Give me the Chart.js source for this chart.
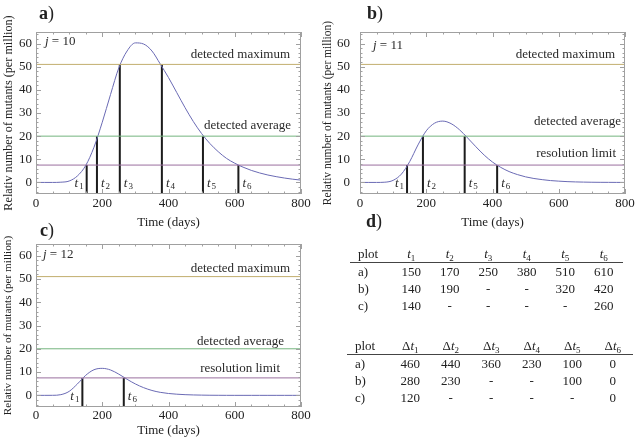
<!DOCTYPE html>
<html>
<head>
<meta charset="utf-8">
<script src="https://cdn.jsdelivr.net/npm/chart.js@4.4.0/dist/chart.umd.min.js"></script>
<style>
  body { margin: 0; background: #fff; font-family: "Liberation Serif", serif; color: #222; }
  #wrap { position: relative; width: 637px; height: 444px; overflow: hidden; }
  canvas { position: absolute; }
  .lbl { position: absolute; font-size: 18px; line-height: 20px; }
  table { position: absolute; border-collapse: collapse; font-size: 13px; table-layout: fixed; }
  td, th { font-weight: normal; text-align: center; padding: 0; height: 17px; line-height: 17px; white-space: nowrap; }
  th { border-bottom: 1px solid #444; }
  td.p, th.p { text-align: left; padding-left: 8px; }
  sub { font-size: 9px; vertical-align: -3px; line-height: 0; }
</style>
</head>
<body>
<div id="wrap">
  <canvas id="ca" width="318" height="232" style="left:0;top:0"></canvas>
  <canvas id="cb" width="319" height="232" style="left:318px;top:0"></canvas>
  <canvas id="cc" width="318" height="224" style="left:0;top:220px"></canvas>
  <div class="lbl" style="left:39px;top:3px"><b>a</b>)</div>
  <div class="lbl" style="left:367px;top:3px"><b>b</b>)</div>
  <div class="lbl" style="left:40px;top:220px"><b>c</b>)</div>
  <div class="lbl" style="left:366px;top:211px"><b>d</b>)</div>
  <table id="t1" style="left:350px;top:245px;width:273px"></table>
  <table id="t2" style="left:347px;top:337px;width:286px"></table>
</div>
<script>
// time axis (days) and the three simulated curves
const days = [0, 25, 50, 75, 100, 125, 150, 175, 200, 225, 250, 275, 300, 325, 350, 375, 400,
  425, 450, 475, 500, 525, 550, 575, 600, 625, 650, 675, 700, 725, 750, 775, 800];
const curveA = [0, 0, 0, 0.1, 0.6, 2.8, 7.3, 15.2, 26, 38, 49.5, 56.8, 60.3, 59.8, 56.8, 51.2, 45.3,
  38.8, 32.3, 26.3, 21.1, 16.8, 13.3, 10.4, 8.3, 6.6, 5.2, 4.1, 3.2, 2.5, 1.9, 1.4, 1.0];
const curveB = [0, 0, 0, 0.1, 0.9, 3.6, 9.0, 16.2, 22.3, 25.6, 26.5, 25.4, 22.8, 19.2, 15.4, 11.8, 8.8,
  6.5, 4.7, 3.4, 2.4, 1.7, 1.2, 0.8, 0.55, 0.35, 0.22, 0.14, 0.08, 0.05, 0.03, 0.01, 0];
const curveC = [0, 0, 0.02, 0.3, 1.7, 4.9, 8.6, 11.0, 11.6, 10.9, 9.1, 6.9, 4.9, 3.3, 2.1, 1.3, 0.8,
  0.5, 0.3, 0.18, 0.1, 0.05, 0.03, 0.01, 0, 0, 0, 0, 0, 0, 0, 0, 0];

// horizontal thresholds
const levelNames = ["detected maximum", "detected average", "resolution limit"];
const levelValues = [51, 20, 7.5];
const levelColors = ["#c2ae6e", "#74b47e", "#9a6e9e"];

// crossing times (as drawn), which threshold they hit, subscript index
const markA = [153, 184, 253, 380, 504, 611];
const markLevelA = [2, 1, 0, 0, 1, 2];
const markSubA = ["1", "2", "3", "4", "5", "6"];
const markB = [142, 190, 316, 414];
const markLevelB = [2, 1, 1, 2];
const markSubB = ["1", "2", "5", "6"];
const markC = [140, 265];
const markLevelC = [2, 2];
const markSubC = ["1", "6"];

const xTicks = [0, 200, 400, 600, 800];
const yTicks = [0, 10, 20, 30, 40, 50, 60];

// table d)
const tHead = ["1", "2", "3", "4", "5", "6"];
const tRows = [
  ["a)", "150", "170", "250", "380", "510", "610"],
  ["b)", "140", "190", "-", "-", "320", "420"],
  ["c)", "140", "-", "-", "-", "-", "260"]
];
const dtRows = [
  ["a)", "460", "440", "360", "230", "100", "0"],
  ["b)", "280", "230", "-", "-", "100", "0"],
  ["c)", "120", "-", "-", "-", "-", "0"]
];

const xMinor = [];
for (let v = 0; v <= 800; v += 50) xMinor.push(v);
const yMinor = [];
for (let v = -4; v <= 64; v += 2) yMinor.push(v);

const FONT = '"Liberation Serif", serif';

function subLabel(ctx, px, py, sub, left) {
  ctx.font = 'italic 13px ' + FONT;
  const w1 = ctx.measureText('t').width;
  ctx.font = '9px ' + FONT;
  const w2 = ctx.measureText(sub).width;
  const x0 = left ? px - 3 - w1 - w2 - 1 : px + 4;
  ctx.textAlign = 'left';
  ctx.textBaseline = 'middle';
  ctx.font = 'italic 13px ' + FONT;
  ctx.fillText('t', x0, py);
  ctx.font = '9px ' + FONT;
  ctx.fillText(sub, x0 + w1 + 1, py + 3);
}

const decor = {
  id: 'decor',
  afterDatasetsDraw(chart, args, o) {
    const { ctx, chartArea: a, scales: { x, y } } = chart;
    ctx.save();
    ctx.strokeStyle = '#a0a0a0';
    ctx.lineWidth = 1;
    ctx.beginPath();
    xMinor.forEach(v => {
      const p = Math.round(x.getPixelForValue(v)) + 0.5;
      const L = xTicks.includes(v) ? 5 : 2.5;
      ctx.moveTo(p, a.bottom); ctx.lineTo(p, a.bottom - L);
      ctx.moveTo(p, a.top); ctx.lineTo(p, a.top + L);
    });
    yMinor.forEach(v => {
      const p = Math.round(y.getPixelForValue(v)) + 0.5;
      const L = yTicks.includes(v) ? 5 : 2.5;
      ctx.moveTo(a.left, p); ctx.lineTo(a.left + L, p);
      ctx.moveTo(a.right, p); ctx.lineTo(a.right - L, p);
    });
    ctx.stroke();
    ctx.strokeRect(Math.round(a.left) + 0.5, Math.round(a.top) + 0.5,
      Math.round(a.width) - 1, Math.round(a.height) - 1);

    // threshold captions
    ctx.fillStyle = '#2a2a2a';
    ctx.font = '13px ' + FONT;
    ctx.textAlign = 'right';
    ctx.textBaseline = 'middle';
    o.texts.forEach(t => {
      ctx.fillText(levelNames[t.i], a.right - t.dx, y.getPixelForValue(levelValues[t.i]) - t.dy);
    });

    // j = ..
    ctx.textAlign = 'left';
    ctx.font = 'italic 13px ' + FONT;
    const jx = a.left + o.jx, jy = a.top + o.jy;
    ctx.fillText('j', jx, jy);
    const jw = ctx.measureText('j').width;
    ctx.font = '13px ' + FONT;
    ctx.fillText(' = ' + o.j, jx + jw, jy);

    // t labels under the crossings
    o.marks.forEach((t, k) => {
      subLabel(ctx, x.getPixelForValue(t), y.getPixelForValue(-0.5), o.subs[k], k === 0);
    });
    ctx.restore();
  }
};

function makePanel(id, cfg) {
  const levelSets = levelValues.map((v, i) => ({
    data: [{ x: 0, y: v }, { x: 800, y: v }],
    borderColor: levelColors[i], borderWidth: 1, pointRadius: 0
  }));
  const markData = [];
  cfg.marks.forEach((t, k) => {
    markData.push({ x: t, y: -5 }, { x: t, y: levelValues[cfg.levels[k]] }, { x: t, y: null });
  });
  new Chart(document.getElementById(id), {
    type: 'line',
    data: {
      datasets: [
        ...levelSets,
        {
          data: days.map((d, i) => ({ x: d, y: cfg.curve[i] })),
          borderColor: '#6a6ab4', borderWidth: 1, pointRadius: 0,
          cubicInterpolationMode: 'monotone'
        },
        {
          data: markData, borderColor: '#1c1c1c', borderWidth: 2, pointRadius: 0,
          spanGaps: false
        }
      ]
    },
    options: {
      responsive: false,
      animation: false,
      devicePixelRatio: 1,
      layout: { padding: { top: cfg.padTop, right: cfg.padRight, left: 0, bottom: 0 } },
      plugins: {
        legend: { display: false },
        tooltip: { enabled: false },
        decor: { texts: cfg.texts, j: cfg.j, jx: cfg.jx, jy: cfg.jy, marks: cfg.marks, subs: cfg.subs }
      },
      scales: {
        x: {
          type: 'linear', min: 0, max: 800,
          grid: { display: false, drawTicks: false },
          border: { display: false },
          afterBuildTicks: s => { s.ticks = xTicks.map(v => ({ value: v })); },
          afterFit: s => { s.height = cfg.xHeight; },
          ticks: { font: { family: FONT, size: 13 }, color: '#222', padding: cfg.xTickPad, maxRotation: 0 },
          title: {
            display: true, text: 'Time (days)', color: '#222',
            font: { family: FONT, size: 13 }, padding: { top: 0, bottom: cfg.xTitlePad }
          }
        },
        y: {
          type: 'linear', min: -5, max: 65,
          grid: { display: false, drawTicks: false },
          border: { display: false },
          afterBuildTicks: s => { s.ticks = yTicks.map(v => ({ value: v })); },
          afterFit: s => { s.width = cfg.yWidth; },
          ticks: { font: { family: FONT, size: 13 }, color: '#222', padding: cfg.yTickPad },
          title: {
            display: true, text: 'Relativ number of mutants (per million)', color: '#222',
            font: { family: FONT, size: cfg.yTitleSize }, padding: { top: cfg.yTitlePad, bottom: 0 }
          }
        }
      }
    },
    plugins: [decor]
  });
}

makePanel('ca', {
  curve: curveA, marks: markA, levels: markLevelA, subs: markSubA, j: '10',
  padTop: 32, padRight: 17, xHeight: 38, yWidth: 36,
  xTickPad: 2, xTitlePad: 2, yTickPad: 4, yTitlePad: 1, yTitleSize: 12.2,
  jx: 9, jy: 10,
  texts: [{ i: 0, dx: 11, dy: 10 }, { i: 1, dx: 10, dy: 11 }]
});
makePanel('cb', {
  curve: curveB, marks: markB, levels: markLevelB, subs: markSubB, j: '11',
  padTop: 32, padRight: 12, xHeight: 38, yWidth: 42,
  xTickPad: 2, xTitlePad: 2, yTickPad: 10, yTitlePad: 3, yTitleSize: 11.5,
  jx: 13, jy: 14,
  texts: [{ i: 0, dx: 10, dy: 10 }, { i: 1, dx: 4, dy: 15 }, { i: 2, dx: 9, dy: 11 }]
});
makePanel('cc', {
  curve: curveC, marks: markC, levels: markLevelC, subs: markSubC, j: '12',
  padTop: 24, padRight: 17, xHeight: 37, yWidth: 36,
  xTickPad: 1, xTitlePad: 6, yTickPad: 4, yTitlePad: 1, yTitleSize: 11.2,
  jx: 7, jy: 11,
  texts: [{ i: 0, dx: 11, dy: 8 }, { i: 1, dx: 17, dy: 7 }, { i: 2, dx: 21, dy: 9 }]
});

// table d)
function buildTable(id, delta, rows, plotW, colW) {
  const tb = document.getElementById(id);
  let html = '<colgroup><col style="width:' + plotW + 'px">';
  tHead.forEach(() => { html += '<col style="width:' + colW + 'px">'; });
  html += '</colgroup><tr><th class="p">plot</th>';
  tHead.forEach(h => { html += '<th>' + (delta ? '&Delta;' : '') + '<i>t</i><sub>' + h + '</sub></th>'; });
  html += '</tr>';
  rows.forEach(r => {
    html += '<tr>' + r.map((c, k) => '<td' + (k === 0 ? ' class="p"' : '') + '>' + c + '</td>').join('') + '</tr>';
  });
  tb.innerHTML = html;
}
buildTable('t1', false, tRows, 42, 38.5);
buildTable('t2', true, dtRows, 43, 40.5);
</script>
</body>
</html>
